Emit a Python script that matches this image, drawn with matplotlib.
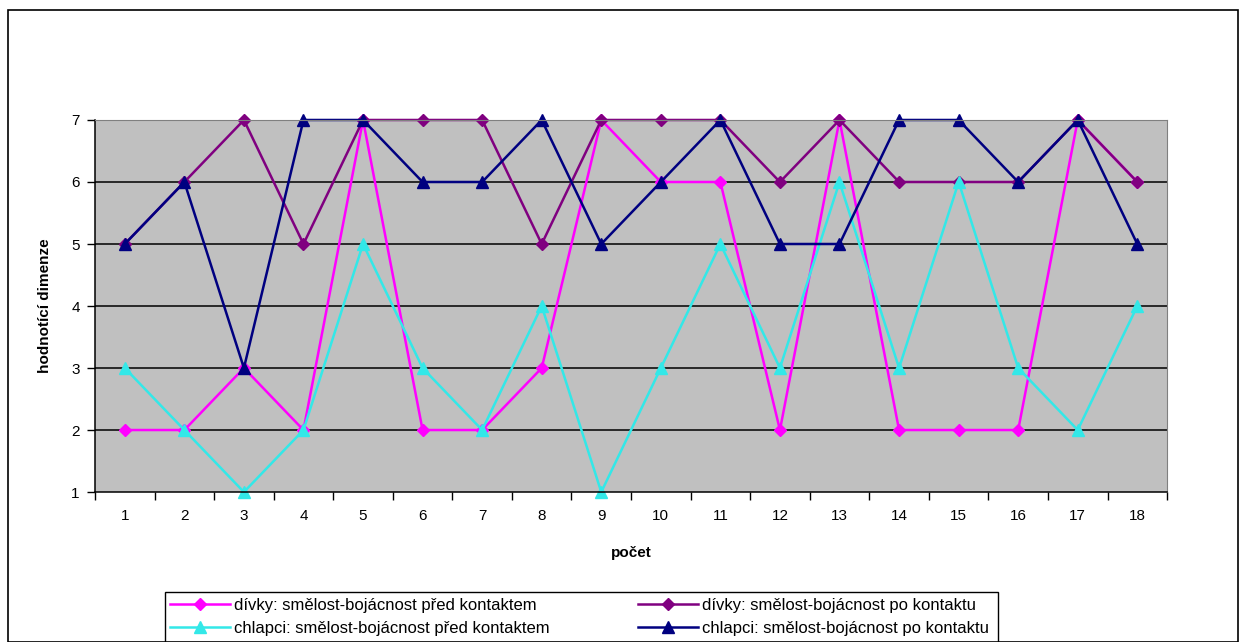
import matplotlib
matplotlib.use("Agg")
import matplotlib.pyplot as plt
from matplotlib.patches import Rectangle

plt.rcParams['font.family'] = ['Liberation Sans', 'DejaVu Sans']

pocet = list(range(1, 19))
divky_pred = [2, 2, 3, 2, 7, 2, 2, 3, 7, 6, 6, 2, 7, 2, 2, 2, 7, 6]
divky_po = [5, 6, 7, 5, 7, 7, 7, 5, 7, 7, 7, 6, 7, 6, 6, 6, 7, 6]
chlapci_pred = [3, 2, 1, 2, 5, 3, 2, 4, 1, 3, 5, 3, 6, 3, 6, 3, 2, 4]
chlapci_po = [5, 6, 3, 7, 7, 6, 6, 7, 5, 6, 7, 5, 5, 7, 7, 6, 7, 5]

labels = [
    "dívky: smělost-bojácnost před kontaktem",
    "dívky: smělost-bojácnost po kontaktu",
    "chlapci: smělost-bojácnost před kontaktem",
    "chlapci: smělost-bojácnost po kontaktu",
]

fig = plt.figure(figsize=(12.47, 6.42), dpi=100)
ax = fig.add_axes([0.0762, 0.2336, 0.8597, 0.5795])
ax.set_facecolor("#C0C0C0")

l1, = ax.plot(pocet, divky_pred, color="#FF00FF", marker="D", ms=6, lw=1.8, label=labels[0])
l2, = ax.plot(pocet, divky_po, color="#800080", marker="D", ms=6, lw=1.8, label=labels[1])
l3, = ax.plot(pocet, chlapci_pred, color="#33E8E8", marker="^", ms=8, lw=1.8, label=labels[2])
l4, = ax.plot(pocet, chlapci_po, color="#000080", marker="^", ms=8, lw=1.8, label=labels[3])
for ln in (l1, l2, l3, l4):
    ln.set_clip_on(False)

ax.set_xlim(0.5, 18.5)
ax.set_ylim(1, 7)
ax.set_yticks(range(1, 8))
ax.set_xticks(pocet)
ax.set_xticks([x + 0.5 for x in range(0, 19)], minor=True)
ax.tick_params(axis="x", which="major", length=0, pad=12, labelsize=11)
ax.tick_params(axis="x", which="minor", length=6, width=1, direction="out")
ax.tick_params(axis="y", length=6, width=1, direction="out", labelsize=11, pad=5)

for y in range(2, 7):
    ax.axhline(y, color="black", lw=1.1, zorder=0.5)

for s in ("top", "right"):
    ax.spines[s].set_color("#808080")
for s in ("left", "bottom"):
    ax.spines[s].set_color("black")
    ax.spines[s].set_linewidth(1.1)

ax.set_xlabel("počet", fontsize=11, fontweight="bold", labelpad=17)
ax.set_ylabel("hodnotící dimenze", fontsize=11, fontweight="bold", labelpad=14)

# legend in two columns, frame drawn separately
leg = fig.legend([l1, l3, l2, l4], [labels[0], labels[2], labels[1], labels[3]],
                 ncol=2, loc="upper left", bbox_to_anchor=(170 / 1247, 1 - 598 / 642),
                 fontsize=12, frameon=False, handlelength=3.6, handletextpad=0.25,
                 columnspacing=5.3, borderaxespad=0, labelspacing=0.45, borderpad=0)

fig.patches.append(Rectangle((165 / 1247, -0.01), 833 / 1247, 1 - 592 / 642 + 0.01,
                             transform=fig.transFigure, fill=False,
                             edgecolor="black", lw=1.0))
fig.patches.append(Rectangle((8 / 1247, 0.0), 1230 / 1247, 1 - 10 / 642,
                             transform=fig.transFigure, fill=False,
                             edgecolor="black", lw=1.2))

fig.savefig("out.png", dpi=100)
